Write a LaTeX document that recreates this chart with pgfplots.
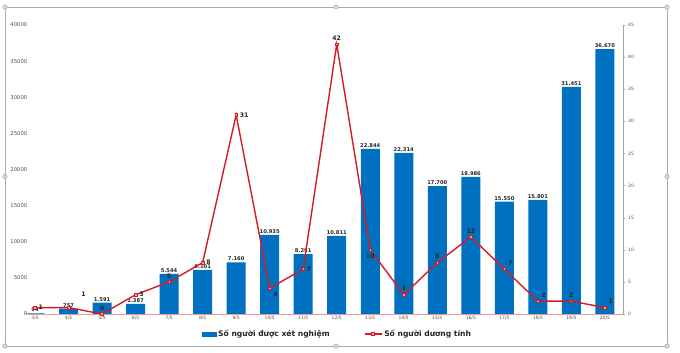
\documentclass[border=0pt]{standalone}
\usepackage{pgfplots}
\pgfplotsset{compat=1.18}
\usepackage{pgfplotstable}
\usepackage{fontspec}
\setmainfont{DejaVu Sans}
\definecolor{barblue}{RGB}{0,112,192}
\definecolor{linered}{RGB}{212,28,34}
\definecolor{framecol}{RGB}{160,174,192}
\definecolor{ticktext}{RGB}{80,80,80}

\pgfplotstableread{
x tests
0 94
1 757
2 1591
3 1387
4 5544
5 6101
6 7160
7 10935
8 8291
9 10811
10 22844
11 22314
12 17700
13 18986
14 15550
15 15801
16 31451
17 36670
}\testdata

\pgfplotstableread{
x pos
0 1
1 1
2 0
3 3
4 5
5 8
6 31
7 4
8 7
9 42
10 10
11 3
12 8
13 12
14 7
15 2
16 2
17 1
}\posdata

\pgfplotsset{
  lbl/.style={draw=none, mark=none, forget plot, nodes near coords,
    every node near coord/.append style={anchor=#1, font=\fontsize{6.2}{7}\selectfont\bfseries, text=black!85, inner sep=3.5pt}},
}

\begin{document}
\begin{tikzpicture}
\fill[white] (0pt,0pt) rectangle (680pt,353pt);
\begin{axis}[
  at={(28pt,39pt)}, anchor=south west,
  scale only axis, width=595pt, height=289pt,
  xmin=-0.21, xmax=17.54, ymin=0, ymax=40000,
  ybar, bar width=19pt,
  xtick=data,
  xticklabels={3/5,4/5,5/5,6/5,7/5,8/5,9/5,10/5,11/5,12/5,13/5,14/5,15/5,16/5,17/5,18/5,19/5,20/5},
  ytick={0,5000,...,40000},
  scaled y ticks=false,
  /pgf/number format/assume math mode=true,
  /pgf/number format/1000 sep={},
  axis x line*=bottom, axis y line*=left,
  x axis line style={draw=linered!45, line width=0.8pt, -},
  y axis line style={draw=none},
  major tick length=0pt,
  xticklabel style={font=\fontsize{4.5}{5}\selectfont, text=ticktext, inner sep=1pt, yshift=-1pt},
  yticklabel style={font=\fontsize{5.3}{6}\selectfont, text=ticktext, inner sep=0.5pt},
  clip=false,
]
\addplot[fill=barblue, draw=none,
  nodes near coords={\pgfmathprintnumber[assume math mode=true,1000 sep={.}]{\pgfplotspointmeta}},
  every node near coord/.append style={font=\fontsize{5.2}{6}\selectfont\bfseries, text=black!85, inner sep=1.2pt}
] table[x=x,y=tests]{\testdata};
\end{axis}
\begin{axis}[
  at={(28pt,39pt)}, anchor=south west,
  scale only axis, width=595pt, height=289pt,
  xmin=-0.21, xmax=17.54, ymin=0, ymax=45,
  ytick={0,5,...,45},
  /pgf/number format/assume math mode=true,
  axis x line=none, axis y line*=right,
  y axis line style={draw=black!35, -},
  ytick style={draw=black!35},
  major tick length=2pt, tick align=outside,
  yticklabel style={font=\fontsize{4.5}{5}\selectfont, text=ticktext, inner sep=1pt, xshift=2pt},
  clip=false,
  legend columns=2,
  legend style={at={(axis description cs:0.52,0)}, anchor=center, yshift=-20pt,
    draw=none, fill=none, font=\fontsize{7.6}{8}\selectfont\bfseries, text=black!85,
    /tikz/every even column/.append style={column sep=32pt}},
]
\addlegendimage{legend image code/.code={\fill[barblue] (0pt,-2.2pt) rectangle (14pt,2.2pt);}}
\addlegendentry{Số người được xét nghiệm}
\addplot[color=linered, line width=1.4pt, mark=square*, mark size=1.3pt,
  mark options={fill=linered!40, draw=linered, line width=0.6pt}
] table[x=x,y=pos]{\posdata};
\addlegendentry{Số người dương tính}
\addplot[lbl=west] coordinates {(0,1) (3,3) (5,8) (6,31) (8,7)};
\addplot[lbl=south] coordinates {(2,0) (4,5) (9,42) (11,3) (12,8) (13,12) (16,2)};
\addplot[lbl=north] coordinates {(10,10)};
\addplot[lbl=south west] coordinates {(14,7) (15,2) (17,1)};
\addplot[lbl=south west, every node near coord/.append style={xshift=9pt, yshift=7pt}] coordinates {(1,1)};
\addplot[lbl=north west] coordinates {(7,4)};
\end{axis}
\draw[framecol, line width=0.7pt] (5pt,7pt) rectangle (667pt,346pt);
\foreach \hx/\hy in {5/7,336/7,667/7,5/176.5,667/176.5,5/346,336/346,667/346}{
  \filldraw[fill=black!15, draw=framecol, line width=0.5pt] (\hx pt,\hy pt) circle (2.2pt);
}
\pgfresetboundingbox
\useasboundingbox (0pt,0pt) rectangle (680pt,353pt);
\end{tikzpicture}
\end{document}
